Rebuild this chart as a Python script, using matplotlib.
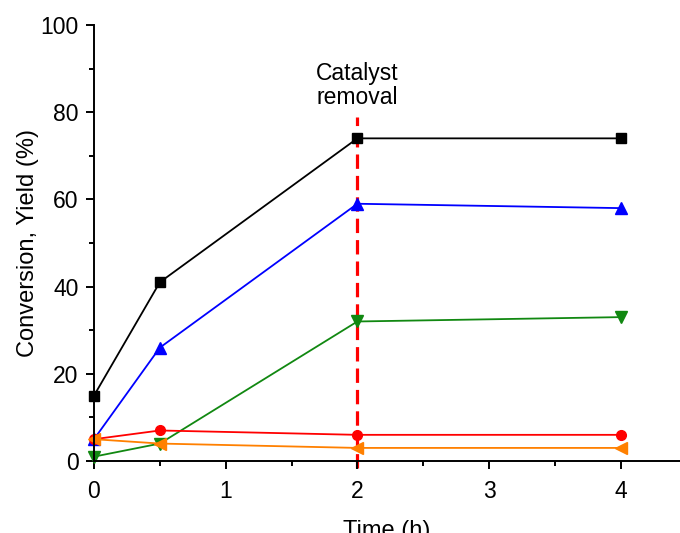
import matplotlib.pyplot as plt
from matplotlib.ticker import MultipleLocator

plt.rcParams['font.family'] = ['Liberation Sans', 'DejaVu Sans']

# temps de réaction (h)
time = [0, 0.5, 2, 4]

conversion = [15, 41, 74, 74]
yield_blue = [5, 26, 59, 58]
yield_green = [1, 4, 32, 33]
yield_red = [5, 7, 6, 6]
yield_orange = [5, 4, 3, 3]

removal_time = 2
removal_label = "Catalyst\nremoval"

fig = plt.figure(figsize=(6.8, 5.33), dpi=100)
ax = fig.add_axes([94/680, 72/533, 586/680, 436/533])

ax.plot(time, conversion, color='black', marker='s', markersize=7, lw=1.3, clip_on=False)
ax.plot(time, yield_blue, color='#0000ff', marker='^', markersize=8, lw=1.3, clip_on=False)
ax.plot(time, yield_green, color='#118811', marker='v', markersize=8, lw=1.3, clip_on=False)
ax.plot(time, yield_red, color='#ff0000', marker='o', markersize=7, lw=1.3, clip_on=False)
ax.plot(time, yield_orange, color='#ff8000', marker='<', markersize=8, lw=1.3, clip_on=False)

ax.plot([removal_time, removal_time], [-1.5, 79], color='#ff0000', lw=2.3,
        dashes=(4.5, 2.2), clip_on=False, zorder=1)
ax.text(removal_time, 80.8, removal_label, ha='center', va='bottom', fontsize=16.5,
        linespacing=1.05)

ax.set_xlim(0, 4.45)
ax.set_ylim(0, 100)
ax.xaxis.set_major_locator(MultipleLocator(1))
ax.xaxis.set_minor_locator(MultipleLocator(0.5))
ax.yaxis.set_major_locator(MultipleLocator(20))
ax.yaxis.set_minor_locator(MultipleLocator(10))

ax.spines['top'].set_visible(False)
ax.spines['right'].set_visible(False)
for s in ['left', 'bottom']:
    ax.spines[s].set_linewidth(1.4)
ax.tick_params(which='major', direction='out', length=6, width=1.4, labelsize=16.5, pad=5)
ax.tick_params(axis='x', which='major', pad=8)
ax.tick_params(which='minor', direction='out', length=3.5, width=1.4)

ax.set_xlabel("Time (h)", fontsize=17, labelpad=12)
ax.set_ylabel("Conversion, Yield (%)", fontsize=17, labelpad=1)

plt.savefig("out.png", dpi=100)
